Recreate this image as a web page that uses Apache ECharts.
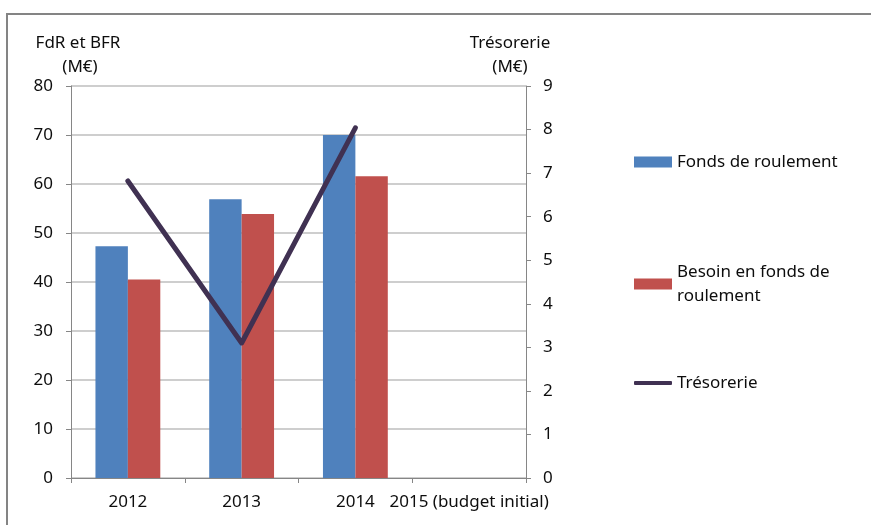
<!DOCTYPE html>
<html>
<head>
<meta charset="utf-8">
<script src="https://cdn.jsdelivr.net/npm/echarts@6/dist/echarts.min.js"></script>
<style>
  html, body { margin: 0; padding: 0; background: #fff; }
  #chart { width: 871px; height: 525px; }
</style>
</head>
<body>
<div id="chart"></div>
<script>
// Fonds de roulement, BFR et trésorerie par exercice
const categories = ['2012', '2013', '2014', '2015 (budget initial)'];
const fondsRoulement = [47.3, 56.9, 70.0, null];
const besoinFonds = [40.5, 53.9, 61.6, null];
const tresorerie = [6.82, 3.1, 8.04, null];

const FONT = '"Noto Sans", sans-serif';
const TEXT = '#0d0d0d';
const FS = 17;

const chart = echarts.init(document.getElementById('chart'));

const legendBase = {
  orient: 'vertical',
  left: 634,
  itemWidth: 38,
  itemHeight: 11,
  itemGap: 0,
  padding: 0,
  selectedMode: false,
  textStyle: { fontFamily: FONT, fontSize: FS, color: TEXT, lineHeight: 24 }
};

chart.setOption({
  animation: false,
  textStyle: { fontFamily: FONT },
  grid: { left: 71, right: 345, top: 86, bottom: 47, containLabel: false },
  legend: [
    Object.assign({}, legendBase, {
      top: 150,
      data: [{ name: 'Fonds de roulement', icon: 'rect' }]
    }),
    Object.assign({}, legendBase, {
      top: 248,
      data: [{ name: 'Besoin en fonds de roulement', icon: 'rect' }],
      formatter: () => 'Besoin en fonds de\nroulement',
      textStyle: Object.assign({}, legendBase.textStyle, { padding: [24, 0, 0, 0] })
    }),
    Object.assign({}, legendBase, {
      top: 371,
      itemHeight: 4,
      data: [{ name: 'Trésorerie', icon: 'roundRect' }]
    })
  ],
  xAxis: {
    type: 'category',
    data: categories,
    boundaryGap: true,
    axisLine: { lineStyle: { color: '#868686', width: 1 } },
    axisTick: { show: true, length: 5, lineStyle: { color: '#868686' } },
    axisLabel: { color: TEXT, fontSize: FS, margin: 16, fontFamily: FONT, interval: 0 }
  },
  yAxis: [
    {
      type: 'value',
      min: 0, max: 80, interval: 10,
      axisLine: { show: true, lineStyle: { color: '#868686', width: 1 } },
      axisTick: { show: true, length: 5, lineStyle: { color: '#868686' } },
      axisLabel: { color: TEXT, fontSize: FS, margin: 18, fontFamily: FONT },
      splitLine: { show: true, lineStyle: { color: '#bebebe', width: 1.5 } }
    },
    {
      type: 'value',
      min: 0, max: 9, interval: 1,
      position: 'right',
      axisLine: { show: true, lineStyle: { color: '#868686', width: 1 } },
      axisTick: { show: true, length: 5, lineStyle: { color: '#868686' } },
      axisLabel: { color: TEXT, fontSize: FS, margin: 17, fontFamily: FONT },
      splitLine: { show: false }
    }
  ],
  series: [
    {
      name: 'Fonds de roulement',
      type: 'bar',
      data: fondsRoulement,
      barGap: '0%',
      barCategoryGap: '43%',
      itemStyle: { color: '#4f81bd' }
    },
    {
      name: 'Besoin en fonds de roulement',
      type: 'bar',
      data: besoinFonds,
      barGap: '0%',
      barCategoryGap: '43%',
      itemStyle: { color: '#c0504d' }
    },
    {
      name: 'Trésorerie',
      type: 'line',
      yAxisIndex: 1,
      data: tresorerie,
      symbol: 'none',
      connectNulls: false,
      lineStyle: { color: '#403152', width: 5, cap: 'round', join: 'round' },
      itemStyle: { color: '#403152' },
      z: 5
    }
  ],
  graphic: [
    {
      type: 'rect',
      shape: { x: 7, y: 14, width: 900, height: 560 },
      style: { fill: 'none', stroke: '#848484', lineWidth: 2 },
      silent: true
    },
    {
      type: 'text',
      x: 78, y: 43,
      style: { text: 'FdR et BFR', font: FS + 'px ' + FONT, fill: TEXT, align: 'center', verticalAlign: 'middle' }
    },
    {
      type: 'text',
      x: 80, y: 67,
      style: { text: '(M€)', font: FS + 'px ' + FONT, fill: TEXT, align: 'center', verticalAlign: 'middle' }
    },
    {
      type: 'text',
      x: 510, y: 43,
      style: { text: 'Trésorerie', font: FS + 'px ' + FONT, fill: TEXT, align: 'center', verticalAlign: 'middle' }
    },
    {
      type: 'text',
      x: 510, y: 67,
      style: { text: '(M€)', font: FS + 'px ' + FONT, fill: TEXT, align: 'center', verticalAlign: 'middle' }
    }
  ]
});
</script>
</body>
</html>
